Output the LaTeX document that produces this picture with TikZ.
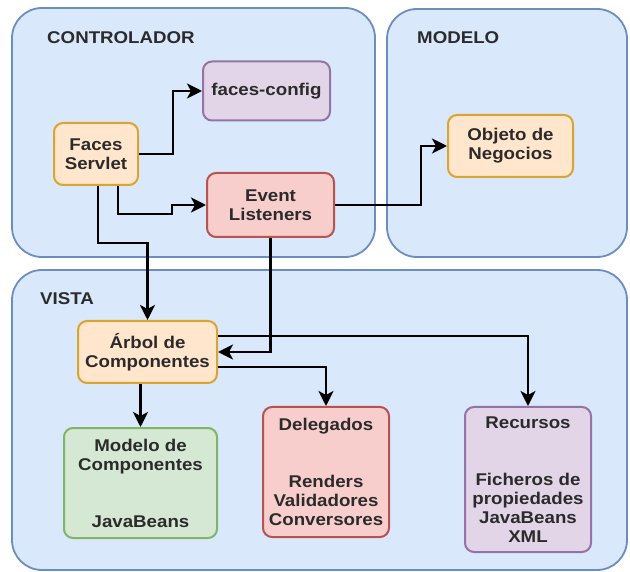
\documentclass[tikz,border=0pt]{standalone}
\usepackage{fontspec}
\setmainfont{Liberation Sans}[FakeStretch=1.1]
\definecolor{azulfondo}{HTML}{DAE8FC}
\definecolor{azulborde}{HTML}{6C8EBF}
\definecolor{naranjafondo}{HTML}{FFE6CC}
\definecolor{naranjaborde}{HTML}{D9A431}
\definecolor{lilafondo}{HTML}{E1D5E7}
\definecolor{lilaborde}{HTML}{9673A6}
\definecolor{rojofondo}{HTML}{F8CECC}
\definecolor{rojoborde}{HTML}{B85450}
\definecolor{verdefondo}{HTML}{D5E8D4}
\definecolor{verdeborde}{HTML}{82B366}
\definecolor{texto}{HTML}{2B2B2B}
\usepackage{tikz}
\usetikzlibrary{calc, positioning, arrows.meta}

\begin{document}
\begin{tikzpicture}[x=1pt, y=-1pt,
  capa/.style={draw=azulborde, fill=azulfondo, line width=1.8pt,
               rounded corners=30pt, inner sep=0pt},
  caja/.style={line width=2pt, rounded corners=9pt, align=center,
               inner sep=2pt, text=texto,
               font=\fontsize{17}{19}\selectfont\bfseries},
  titulo/.style={anchor=west, inner sep=0pt, text=texto,
                 font=\fontsize{17}{19}\selectfont\bfseries},
  naranja/.style={caja, draw=naranjaborde, fill=naranjafondo},
  lila/.style={caja, draw=lilaborde, fill=lilafondo},
  rojo/.style={caja, draw=rojoborde, fill=rojofondo},
  verde/.style={caja, draw=verdeborde, fill=verdefondo},
  flecha/.style={line width=2.8pt, draw=black,
                 -{Stealth[length=15pt, width=15pt, inset=4pt]}},
]
\useasboundingbox (0,0) rectangle (630,572);

\node[capa, minimum width=363pt, minimum height=249pt] (controlador) at (193.5,132.5) {};
\node[capa, minimum width=240pt, minimum height=248pt] (modelo) at (507,133) {};
\node[capa, minimum width=615pt, minimum height=300pt] (vista) at (319.5,420) {};

\node[titulo] (tcontrolador) at (47,38) {CONTROLADOR};
\node[titulo] (tmodelo) at (417,38) {MODELO};
\node[titulo] (tvista) at (40,299) {VISTA};

\node[lila, minimum width=127pt, minimum height=59pt] (fconfig) at (266.5,91) {faces-config};
\node[naranja, minimum width=84pt, minimum height=62pt] (servlet) at (96,154) {Faces\\Servlet};
\node[rojo, minimum width=127pt, minimum height=64pt] (listeners) at (270.5,205) {Event\\Listeners};
\node[naranja, minimum width=125pt, minimum height=62pt] (objeto) at (510.5,146) {Objeto de\\Negocios};

\node[naranja, minimum width=139pt, minimum height=62pt] (arbol) at (147.5,352) {Árbol de\\Componentes};
\node[verde, minimum width=153pt, minimum height=110pt] (modcomp) at (140.5,483) {Modelo de\\Componentes\\[38pt]JavaBeans};
\node[rojo, minimum width=126pt, minimum height=130pt] (delegados) at (326,472) {Delegados\\[38pt]Renders\\Validadores\\Conversores};
\node[lila, minimum width=126pt, minimum height=145pt] (recursos) at (528,479.5) {Recursos\\[38pt]Ficheros de\\propiedades\\JavaBeans\\XML};

\draw[flecha] (servlet.east) -- ++(34,0) |- (fconfig.west);
\draw[flecha] ([xshift=22pt]servlet.south) -- ++(0,28) -| ([xshift=-34pt]listeners.west) -- (listeners.west);
\draw[flecha] ([xshift=2pt]servlet.south) -- ++(0,57) -| (arbol.north);
\draw[flecha] (listeners.south) |- (arbol.east);
\draw[flecha] (listeners.east) -- ++(86,0) |- (objeto.west);
\draw[flecha] ([yshift=16pt]arbol.east) -| (recursos.north);
\draw[flecha] ([yshift=-15pt]arbol.east) -| (delegados.north);
\draw[flecha] (arbol.south -| modcomp.north) -- (modcomp.north);
\end{tikzpicture}
\end{document}
